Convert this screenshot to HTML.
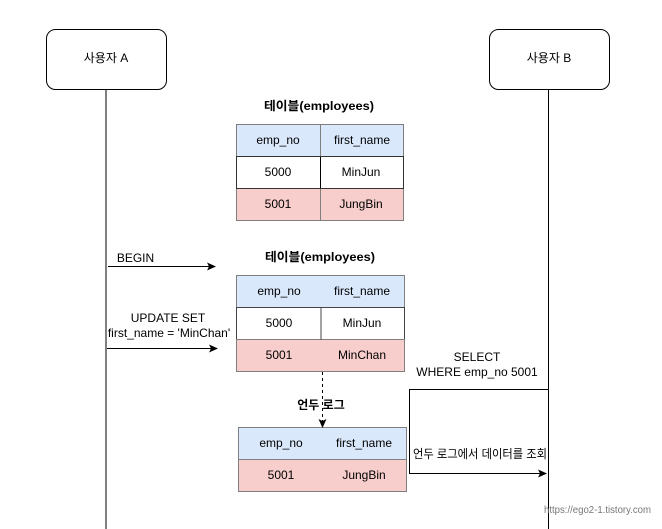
<!DOCTYPE html>
<html>
<head>
<meta charset="utf-8">
<style>
html,body{margin:0;padding:0;background:#fff;width:662px;height:529px;overflow:hidden}
svg{display:block}
text{font-family:"Liberation Sans","Noto Sans CJK KR",sans-serif;font-size:12px;fill:#000;text-anchor:middle}
.b{font-weight:bold}
.t{stroke:#7f7f7f;stroke-width:1}
</style>
</head>
<body>
<svg width="662" height="529" viewBox="0 0 662 529" xmlns="http://www.w3.org/2000/svg">
<rect width="662" height="529" fill="#fff"/>
<!-- lifelines -->
<line x1="106" y1="89" x2="106" y2="529" stroke="#000" stroke-width="1"/>
<line x1="548.5" y1="89" x2="548.5" y2="529" stroke="#000" stroke-width="1"/>
<!-- actors -->
<rect x="46.5" y="29.5" width="120" height="60" rx="9" fill="#fff" stroke="#000"/>
<text x="106" y="62">사용자 A</text>
<rect x="489.5" y="29.5" width="120" height="60" rx="9" fill="#fff" stroke="#000"/>
<text x="549" y="62">사용자 B</text>

<!-- table 1 -->
<text x="319" y="110" class="b" textLength="110" lengthAdjust="spacingAndGlyphs">테이블(employees)</text>
<rect x="236.5" y="124.5" width="167" height="32" fill="#dae8fc" class="t"/>
<rect x="236.5" y="156.5" width="167" height="32" fill="#fff" stroke="#000"/>
<rect x="236.5" y="188.5" width="167" height="32" fill="#f8cecc" class="t"/>
<line x1="320.5" y1="124.5" x2="320.5" y2="220.5" class="t"/>
<line x1="320.5" y1="156.5" x2="320.5" y2="188.5" stroke="#000"/>
<rect x="236.5" y="156.5" width="167" height="32" fill="none" stroke="#333"/>
<text x="278" y="144">emp_no</text><text x="362" y="144">first_name</text>
<text x="278" y="176">5000</text><text x="361" y="176">MinJun</text>
<text x="278" y="208">5001</text><text x="361" y="208">JungBin</text>

<!-- table 2 -->
<text x="320" y="261" class="b" textLength="110" lengthAdjust="spacingAndGlyphs">테이블(employees)</text>
<rect x="236.5" y="275.5" width="168" height="32" fill="#dae8fc" class="t"/>
<rect x="236.5" y="307.5" width="168" height="32" fill="#fff" stroke="#444"/>
<rect x="236.5" y="339.5" width="168" height="32" fill="#f8cecc" class="t"/>
<line x1="321" y1="307.5" x2="321" y2="339.5" stroke="#444"/>
<text x="279" y="295">emp_no</text><text x="362" y="295">first_name</text>
<text x="279" y="327">5000</text><text x="362" y="327">MinJun</text>
<text x="279" y="359">5001</text><text x="362" y="359">MinChan</text>

<!-- table 3 -->
<rect x="238.5" y="427.5" width="168" height="32" fill="#dae8fc" class="t"/>
<rect x="238.5" y="459.5" width="168" height="32" fill="#f8cecc" class="t"/>
<text x="281" y="447">emp_no</text><text x="364" y="447">first_name</text>
<text x="281" y="479">5001</text><text x="364" y="479">JungBin</text>

<!-- BEGIN arrow -->
<text x="135.5" y="262">BEGIN</text>
<line x1="108" y1="266.5" x2="210" y2="266.5" stroke="#000"/>
<polygon points="216,266.5 207,262.5 209,266.5 207,270.5" fill="#000"/>

<!-- UPDATE arrow -->
<text x="168" y="322">UPDATE SET</text>
<text x="169" y="337">first_name = 'MinChan'</text>
<line x1="107" y1="348.5" x2="212" y2="348.5" stroke="#000"/>
<polygon points="218,348.5 209,344.5 211,348.5 209,352.5" fill="#000"/>

<!-- dashed undo log -->
<line x1="322.5" y1="372" x2="322.5" y2="422" stroke="#000" stroke-dasharray="3 3"/>
<polygon points="322.5,428 318.5,419 322.5,421 326.5,419" fill="#000"/>
<text x="321" y="409" class="b">언두 로그</text>

<!-- SELECT -->
<text x="477" y="361">SELECT</text>
<text x="477" y="376">WHERE emp_no 5001</text>
<polyline points="548,389.5 409.5,389.5 409.5,473.5 542,473.5" fill="none" stroke="#000"/>
<polygon points="547,473.5 538,469.5 540,473.5 538,477.5" fill="#000"/>
<text x="480" y="458" textLength="134" lengthAdjust="spacingAndGlyphs">언두 로그에서 데이터를 조회</text>

<!-- watermark -->
<text x="597.5" y="513" style="font-size:10px;fill:#777" textLength="107" lengthAdjust="spacingAndGlyphs">https://ego2-1.tistory.com</text>
</svg>
</body>
</html>
